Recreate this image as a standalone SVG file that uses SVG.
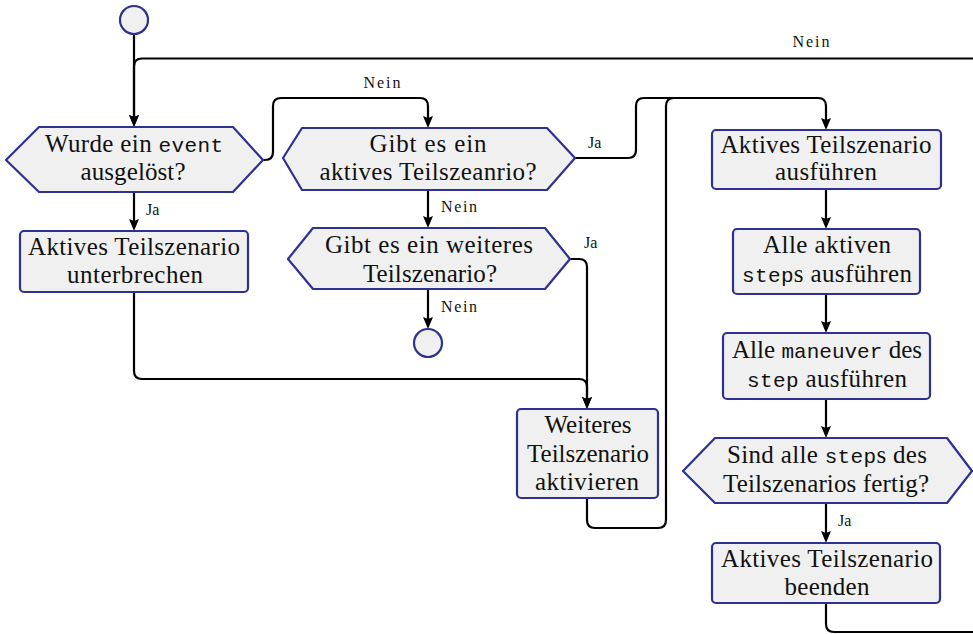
<svg xmlns="http://www.w3.org/2000/svg" width="973" height="634" viewBox="0 0 973 634">
<style>
.n{fill:#f0f0f0;stroke:#2e3192;stroke-width:2.2;stroke-linejoin:round}
.t{font-family:"Liberation Serif","Times New Roman","DejaVu Serif",serif;font-size:25px;fill:#111;text-anchor:middle}
.m{font-family:"Liberation Mono","Courier New",monospace;font-size:21px}
.l{font-family:"Liberation Serif","Times New Roman","DejaVu Serif",serif;font-size:16px;fill:#111}
.c{fill:none;stroke:#000;stroke-width:2.2;stroke-linejoin:round}
</style>
<defs>
<marker id="ar" viewBox="0 0 12 10" refX="6" refY="5" markerWidth="12" markerHeight="10" markerUnits="userSpaceOnUse" orient="auto">
<path d="M0,0 L12,5 L0,10 L2,5 z" fill="#000"/>
</marker>
</defs>
<g id="connectors">
<path class="c" d="M134,34 V121" marker-end="url(#ar)"/>
<path class="c" d="M973,58.5 H142 Q134,58.5 134,66.5 V121" marker-end="url(#ar)"/>
<path class="c" d="M263,160 H265 Q273,160 273,152 V106 Q273,98 281,98 H420 Q428,98 428,106 V122" marker-end="url(#ar)"/>
<path class="c" d="M575,158 H628 Q636,158 636,150 V106 Q636,98 644,98 H818 Q826,98 826,106 V124" marker-end="url(#ar)"/>
<path class="c" d="M587,498 V520 Q587,528 595,528 H658 Q666,528 666,520 V106 Q666,98 674,98 H690"/>
<path class="c" d="M134,192 V225" marker-end="url(#ar)"/>
<path class="c" d="M134,292 V371 Q134,379 142,379 H579 Q587,379 587,387 V403" marker-end="url(#ar)"/>
<path class="c" d="M570,259 H579 Q587,259 587,267 V403" marker-end="url(#ar)"/>
<path class="c" d="M428,190 V222" marker-end="url(#ar)"/>
<path class="c" d="M428,289 V323" marker-end="url(#ar)"/>
<path class="c" d="M826,189 V223" marker-end="url(#ar)"/>
<path class="c" d="M826,294 V327" marker-end="url(#ar)"/>
<path class="c" d="M826,399 V432" marker-end="url(#ar)"/>
<path class="c" d="M826,503 V537" marker-end="url(#ar)"/>
<path class="c" d="M826,603 V624 Q826,632 834,632 H975"/>
<path class="c" d="M971,471 H975"/>
<text class="l" x="811" y="47" text-anchor="middle" textLength="37">Nein</text>
<text class="l" x="382" y="88" text-anchor="middle" textLength="37">Nein</text>
<text class="l" x="588" y="148">Ja</text>
<text class="l" x="146" y="215">Ja</text>
<text class="l" x="441" y="212" textLength="36">Nein</text>
<text class="l" x="584" y="248">Ja</text>
<text class="l" x="441" y="312" textLength="36">Nein</text>
<text class="l" x="838" y="526">Ja</text>
</g>
<g id="start"><circle class="n" cx="134" cy="20" r="14"/></g>
<g id="d1">
<polygon class="n" points="6,160 39,127 233,127 263,160 233,192 39,192"/>
<text class="t" x="134" y="152" textLength="178">Wurde ein <tspan class="m">event</tspan></text>
<text class="t" x="133" y="180" textLength="105">ausgelöst?</text>
</g>
<g id="d2">
<polygon class="n" points="283,158 302,128 547,128 575,158 547,190 302,190"/>
<text class="t" x="428" y="152" textLength="117">Gibt es ein</text>
<text class="t" x="428" y="180" textLength="217">aktives Teilszeanrio?</text>
</g>
<g id="boxD">
<rect class="n" x="20" y="231" width="228" height="61" rx="4"/>
<text class="t" x="134" y="255" textLength="212">Aktives Teilszenario</text>
<text class="t" x="135" y="283" textLength="136">unterbrechen</text>
</g>
<g id="d4">
<polygon class="n" points="288,259 313,228 545,228 570,259 545,289 313,289"/>
<text class="t" x="429" y="253" textLength="208">Gibt es ein weiteres</text>
<text class="t" x="430" y="282" textLength="134">Teilszenario?</text>
</g>
<g id="end"><circle class="n" cx="428" cy="343" r="14"/></g>
<g id="boxF">
<rect class="n" x="517" y="409" width="141" height="89" rx="4"/>
<text class="t" x="588" y="433" textLength="87">Weiteres</text>
<text class="t" x="588" y="462" textLength="122">Teilszenario</text>
<text class="t" x="587" y="490" textLength="104">aktivieren</text>
</g>
<g id="boxA">
<rect class="n" x="712" y="130" width="229" height="59" rx="4"/>
<text class="t" x="826" y="153" textLength="211">Aktives Teilszenario</text>
<text class="t" x="826" y="180" textLength="102">ausführen</text>
</g>
<g id="boxB">
<rect class="n" x="733" y="229" width="187" height="65" rx="4"/>
<text class="t" x="827" y="253" textLength="128">Alle aktiven</text>
<text class="t" x="827" y="282" textLength="170"><tspan class="m">step</tspan>s ausführen</text>
</g>
<g id="boxC">
<rect class="n" x="723" y="333" width="207" height="66" rx="4"/>
<text class="t" x="827" y="358" textLength="190">Alle <tspan class="m">maneuver</tspan> des</text>
<text class="t" x="827" y="387" textLength="160"><tspan class="m">step</tspan> ausführen</text>
</g>
<g id="d3">
<polygon class="n" points="683,471 715,438 947,438 972,471 947,503 715,503"/>
<text class="t" x="827" y="463" textLength="200">Sind alle <tspan class="m">step</tspan>s des</text>
<text class="t" x="826" y="492" textLength="206">Teilszenarios fertig?</text>
</g>
<g id="boxE">
<rect class="n" x="712" y="543" width="228" height="60" rx="4"/>
<text class="t" x="827" y="567" textLength="212">Aktives Teilszenario</text>
<text class="t" x="827" y="595" textLength="85">beenden</text>
</g>
</svg>
